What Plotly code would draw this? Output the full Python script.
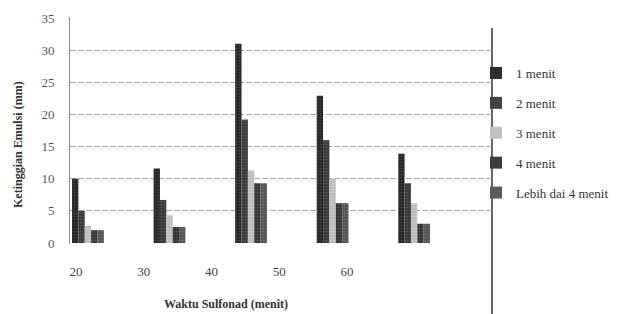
import plotly.graph_objects as go

categories = ["20", "30", "40", "50", "60"]
series_names = ["1 menit", "2 menit", "3 menit", "4 menit", "Lebih dai 4 menit"]
v_1menit = [10.0, 11.6, 31.0, 22.9, 13.9]
v_2menit = [5.0, 6.7, 19.2, 16.0, 9.3]
v_3menit = [2.7, 4.3, 11.3, 10.0, 6.2]
v_4menit = [2.0, 2.5, 9.3, 6.2, 3.0]
v_lebih = [2.0, 2.5, 9.3, 6.2, 3.0]
series_values = [v_1menit, v_2menit, v_3menit, v_4menit, v_lebih]
y_ticks = [0, 5, 10, 15, 20, 25, 30, 35]

colors = ["#262626", "#3a3a3a", "#bdbdbd", "#363636", "#555555"]
fgcolors = ["#6a6a6a", "#777777", "#e6dede", "#707070", "#8a8a8a"]

FONT = "Liberation Serif"

fig = go.Figure()
for i, (name, vals) in enumerate(zip(series_names, series_values)):
    fig.add_trace(go.Bar(
        x=categories, y=vals, name=name, legendgroup=name,
        marker=dict(color=colors[i], line=dict(width=0),
                    pattern=dict(shape=".", fgcolor=fgcolors[i], bgcolor=colors[i],
                                 size=3, solidity=0.25, fillmode="overlay")),
        xaxis="x", yaxis="y",
    ))
# empty helper trace so that the tick-label axis is rendered
fig.add_trace(go.Scatter(x=[], y=[], xaxis="x2", yaxis="y", showlegend=False,
                         hoverinfo="skip"))

# the page body adds an 8px margin; work in window pixels and offset them
OFF = 8
W, H = 621 - OFF, 314 - OFF
L, R, T, B = 70 - OFF, 490 - OFF, 17 - OFF, 244 - OFF
pw, ph = R - L, B - T

def px(x):
    return (x - OFF - L) / pw

def py(y):
    return (B - (y - OFF)) / ph

fig.update_layout(
    template="none",
    width=W, height=H,
    margin=dict(l=L, r=W - R, t=T, b=H - B, autoexpand=False),
    paper_bgcolor="white", plot_bgcolor="white",
    barmode="group", bargap=0.61, bargroupgap=0.0,
    font=dict(family=FONT, size=12, color="#444"),
    xaxis=dict(type="category", range=[-0.22, 4.93], showticklabels=False,
               showgrid=False, zeroline=False, showline=False, ticks="",
               automargin=False),
    xaxis2=dict(overlaying="x", anchor="y", side="bottom", type="linear",
                range=[-0.089, 6.11], tickvals=list(range(len(categories))),
                ticktext=categories, showgrid=False, zeroline=False,
                showline=False, ticks="", ticklabelstandoff=18,
                showticklabels=True, automargin=False,
                tickfont=dict(family=FONT, size=13, color="#444")),
    yaxis=dict(range=[-0.15, 35.15], tickvals=y_ticks, showgrid=True,
               gridcolor="#a8a8a8", griddash="6px,2px", gridwidth=1,
               zeroline=False, showline=True, linecolor="#8a8a8a", linewidth=1,
               ticks="", ticklabelstandoff=12, automargin=False,
               tickfont=dict(family=FONT, size=13, color="#555")),
    showlegend=True,
    legend=dict(xref="container", yref="container",
                x=(476 - OFF) / W, y=1 - (58 - OFF) / H,
                xanchor="left", yanchor="top",
                font=dict(family=FONT, size=13, color="#333"),
                tracegroupgap=10, bgcolor="rgba(0,0,0,0)", traceorder="grouped"),
    annotations=[
        dict(text="<b>Waktu Sulfonad (menit)</b>", xref="paper", yref="paper",
             x=px(226), y=py(304), xanchor="center", yanchor="middle",
             showarrow=False, font=dict(family=FONT, size=12, color="#333")),
        dict(text="<b>Ketinggian Emulsi (mm)</b>", xref="paper", yref="paper",
             x=px(18), y=py(145), xanchor="center", yanchor="middle",
             textangle=-90, showarrow=False,
             font=dict(family=FONT, size=12, color="#333")),
    ],
    shapes=[
        dict(type="line", xref="paper", yref="paper", x0=px(492), x1=px(492),
             y0=py(28), y1=py(314), line=dict(color="#333", width=1.5)),
    ],
)

fig.write_html("out.html")
